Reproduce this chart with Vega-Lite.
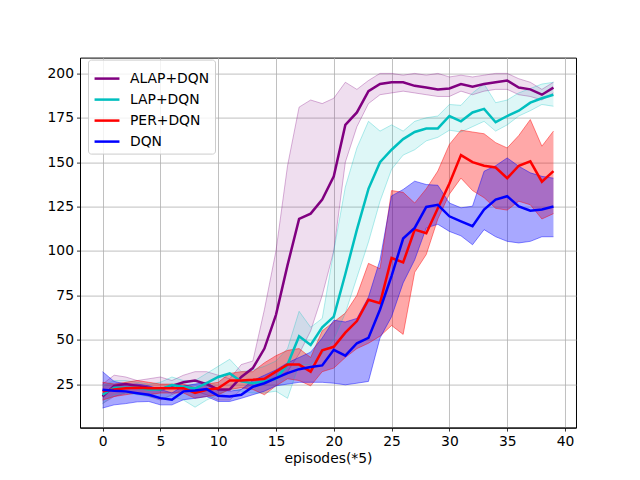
{
"$schema":"https://vega.github.io/schema/vega-lite/v6.json",
"width":496,"height":370,
"autosize":{"type":"none"},
"padding":{"left":80,"top":57.6,"right":64,"bottom":52.8},
"background":"white",
"config":{"view":{"stroke":"black","strokeWidth":1},"font":"DejaVu Sans"},
"data":{"values":[
{"s":"ALAP+DQN","x":0,"m":18,"lo":14,"hi":25},
{"s":"ALAP+DQN","x":1,"m":24,"lo":18,"hi":30},
{"s":"ALAP+DQN","x":2,"m":25,"lo":20,"hi":29},
{"s":"ALAP+DQN","x":3,"m":24,"lo":20,"hi":27},
{"s":"ALAP+DQN","x":4,"m":23,"lo":18,"hi":28},
{"s":"ALAP+DQN","x":5,"m":22,"lo":16,"hi":29},
{"s":"ALAP+DQN","x":6,"m":24,"lo":19,"hi":27},
{"s":"ALAP+DQN","x":7,"m":26,"lo":22,"hi":30},
{"s":"ALAP+DQN","x":8,"m":27,"lo":21,"hi":32},
{"s":"ALAP+DQN","x":9,"m":25,"lo":19,"hi":32},
{"s":"ALAP+DQN","x":10,"m":22,"lo":16,"hi":30},
{"s":"ALAP+DQN","x":11,"m":22,"lo":16,"hi":28},
{"s":"ALAP+DQN","x":12,"m":29,"lo":22,"hi":36},
{"s":"ALAP+DQN","x":13,"m":34,"lo":25,"hi":38},
{"s":"ALAP+DQN","x":14,"m":45,"lo":27,"hi":67},
{"s":"ALAP+DQN","x":15,"m":64,"lo":29,"hi":100},
{"s":"ALAP+DQN","x":16,"m":92,"lo":32,"hi":148},
{"s":"ALAP+DQN","x":17,"m":118,"lo":42,"hi":181},
{"s":"ALAP+DQN","x":18,"m":121,"lo":55,"hi":185},
{"s":"ALAP+DQN","x":19,"m":129,"lo":75,"hi":183},
{"s":"ALAP+DQN","x":20,"m":142,"lo":100,"hi":186},
{"s":"ALAP+DQN","x":21,"m":171,"lo":150,"hi":195},
{"s":"ALAP+DQN","x":22,"m":178,"lo":170,"hi":191},
{"s":"ALAP+DQN","x":23,"m":190,"lo":183,"hi":196},
{"s":"ALAP+DQN","x":24,"m":194,"lo":188,"hi":200},
{"s":"ALAP+DQN","x":25,"m":195,"lo":189,"hi":200},
{"s":"ALAP+DQN","x":26,"m":195,"lo":190,"hi":199},
{"s":"ALAP+DQN","x":27,"m":193,"lo":189,"hi":200},
{"s":"ALAP+DQN","x":28,"m":192,"lo":188,"hi":199},
{"s":"ALAP+DQN","x":29,"m":191,"lo":187,"hi":200},
{"s":"ALAP+DQN","x":30,"m":191.5,"lo":187,"hi":198},
{"s":"ALAP+DQN","x":31,"m":194,"lo":190,"hi":199},
{"s":"ALAP+DQN","x":32,"m":192.5,"lo":188,"hi":198},
{"s":"ALAP+DQN","x":33,"m":194,"lo":190,"hi":199},
{"s":"ALAP+DQN","x":34,"m":195,"lo":191,"hi":200},
{"s":"ALAP+DQN","x":35,"m":196,"lo":191,"hi":200},
{"s":"ALAP+DQN","x":36,"m":192,"lo":188,"hi":197},
{"s":"ALAP+DQN","x":37,"m":191,"lo":187,"hi":195},
{"s":"ALAP+DQN","x":38,"m":188,"lo":185,"hi":191},
{"s":"ALAP+DQN","x":39,"m":192,"lo":189,"hi":195},
{"s":"LAP+DQN","x":0,"m":19,"lo":14,"hi":24},
{"s":"LAP+DQN","x":1,"m":23,"lo":19,"hi":27},
{"s":"LAP+DQN","x":2,"m":23,"lo":20,"hi":27},
{"s":"LAP+DQN","x":3,"m":23,"lo":19,"hi":26},
{"s":"LAP+DQN","x":4,"m":22,"lo":18,"hi":25},
{"s":"LAP+DQN","x":5,"m":22,"lo":17,"hi":26},
{"s":"LAP+DQN","x":6,"m":24.5,"lo":18,"hi":29},
{"s":"LAP+DQN","x":7,"m":23.5,"lo":16,"hi":27},
{"s":"LAP+DQN","x":8,"m":22.5,"lo":12,"hi":27},
{"s":"LAP+DQN","x":9,"m":25.5,"lo":16,"hi":31},
{"s":"LAP+DQN","x":10,"m":29,"lo":19,"hi":35},
{"s":"LAP+DQN","x":11,"m":31,"lo":22,"hi":39},
{"s":"LAP+DQN","x":12,"m":26.5,"lo":21,"hi":32},
{"s":"LAP+DQN","x":13,"m":25.5,"lo":20,"hi":33},
{"s":"LAP+DQN","x":14,"m":26.5,"lo":20,"hi":35},
{"s":"LAP+DQN","x":15,"m":28,"lo":21,"hi":38},
{"s":"LAP+DQN","x":16,"m":36,"lo":17,"hi":45},
{"s":"LAP+DQN","x":17,"m":52,"lo":36,"hi":66},
{"s":"LAP+DQN","x":18,"m":47,"lo":36,"hi":57},
{"s":"LAP+DQN","x":19,"m":57,"lo":42,"hi":62},
{"s":"LAP+DQN","x":20,"m":63,"lo":50,"hi":100},
{"s":"LAP+DQN","x":21,"m":87,"lo":65,"hi":136},
{"s":"LAP+DQN","x":22,"m":112,"lo":85,"hi":158},
{"s":"LAP+DQN","x":23,"m":135,"lo":105,"hi":173},
{"s":"LAP+DQN","x":24,"m":150,"lo":128,"hi":167.5},
{"s":"LAP+DQN","x":25,"m":157,"lo":146,"hi":171},
{"s":"LAP+DQN","x":26,"m":163,"lo":154,"hi":167.5},
{"s":"LAP+DQN","x":27,"m":167,"lo":157,"hi":173},
{"s":"LAP+DQN","x":28,"m":169,"lo":162,"hi":175},
{"s":"LAP+DQN","x":29,"m":169,"lo":164,"hi":176},
{"s":"LAP+DQN","x":30,"m":176,"lo":168,"hi":182.5},
{"s":"LAP+DQN","x":31,"m":173,"lo":167,"hi":182},
{"s":"LAP+DQN","x":32,"m":178,"lo":170,"hi":189},
{"s":"LAP+DQN","x":33,"m":180,"lo":173,"hi":194},
{"s":"LAP+DQN","x":34,"m":172.5,"lo":167.5,"hi":183.5},
{"s":"LAP+DQN","x":35,"m":176,"lo":171,"hi":185},
{"s":"LAP+DQN","x":36,"m":179,"lo":176,"hi":189},
{"s":"LAP+DQN","x":37,"m":183.5,"lo":179,"hi":191.5},
{"s":"LAP+DQN","x":38,"m":186,"lo":182.5,"hi":194},
{"s":"LAP+DQN","x":39,"m":188,"lo":181.5,"hi":195},
{"s":"PER+DQN","x":0,"m":21,"lo":16,"hi":26},
{"s":"PER+DQN","x":1,"m":22,"lo":18,"hi":25},
{"s":"PER+DQN","x":2,"m":22.7,"lo":19,"hi":26},
{"s":"PER+DQN","x":3,"m":23,"lo":20,"hi":27},
{"s":"PER+DQN","x":4,"m":22.7,"lo":19,"hi":26},
{"s":"PER+DQN","x":5,"m":22.7,"lo":20,"hi":25},
{"s":"PER+DQN","x":6,"m":22.7,"lo":20,"hi":25},
{"s":"PER+DQN","x":7,"m":22.7,"lo":20,"hi":25},
{"s":"PER+DQN","x":8,"m":20,"lo":17,"hi":23},
{"s":"PER+DQN","x":9,"m":21.8,"lo":18,"hi":25},
{"s":"PER+DQN","x":10,"m":22.7,"lo":19,"hi":26},
{"s":"PER+DQN","x":11,"m":27,"lo":22,"hi":31},
{"s":"PER+DQN","x":12,"m":27,"lo":23,"hi":32},
{"s":"PER+DQN","x":13,"m":27.4,"lo":22,"hi":32},
{"s":"PER+DQN","x":14,"m":28,"lo":19,"hi":37},
{"s":"PER+DQN","x":15,"m":32,"lo":24,"hi":41},
{"s":"PER+DQN","x":16,"m":36,"lo":28,"hi":44},
{"s":"PER+DQN","x":17,"m":36,"lo":27,"hi":45},
{"s":"PER+DQN","x":18,"m":32,"lo":24,"hi":40},
{"s":"PER+DQN","x":19,"m":44,"lo":32,"hi":55},
{"s":"PER+DQN","x":20,"m":46,"lo":34,"hi":60},
{"s":"PER+DQN","x":21,"m":54,"lo":40,"hi":65},
{"s":"PER+DQN","x":22,"m":60.5,"lo":45,"hi":75},
{"s":"PER+DQN","x":23,"m":72.5,"lo":48,"hi":93},
{"s":"PER+DQN","x":24,"m":70.6,"lo":52,"hi":90},
{"s":"PER+DQN","x":25,"m":96,"lo":58,"hi":134},
{"s":"PER+DQN","x":26,"m":93.5,"lo":53,"hi":133},
{"s":"PER+DQN","x":27,"m":112,"lo":88,"hi":127},
{"s":"PER+DQN","x":28,"m":110,"lo":98,"hi":135},
{"s":"PER+DQN","x":29,"m":124,"lo":118,"hi":145},
{"s":"PER+DQN","x":30,"m":138,"lo":132,"hi":160},
{"s":"PER+DQN","x":31,"m":154,"lo":141,"hi":168},
{"s":"PER+DQN","x":32,"m":150,"lo":134,"hi":167},
{"s":"PER+DQN","x":33,"m":148,"lo":130,"hi":166},
{"s":"PER+DQN","x":34,"m":147,"lo":124,"hi":161},
{"s":"PER+DQN","x":35,"m":141,"lo":123,"hi":158},
{"s":"PER+DQN","x":36,"m":148,"lo":128,"hi":165},
{"s":"PER+DQN","x":37,"m":150.5,"lo":126,"hi":174},
{"s":"PER+DQN","x":38,"m":139,"lo":118,"hi":159},
{"s":"PER+DQN","x":39,"m":145,"lo":121,"hi":167.5},
{"s":"DQN","x":0,"m":21.8,"lo":11.5,"hi":32},
{"s":"DQN","x":1,"m":21.2,"lo":13.3,"hi":26.5},
{"s":"DQN","x":2,"m":20.9,"lo":14,"hi":25},
{"s":"DQN","x":3,"m":19.9,"lo":15,"hi":25},
{"s":"DQN","x":4,"m":19,"lo":15.2,"hi":24},
{"s":"DQN","x":5,"m":17.1,"lo":13.3,"hi":22},
{"s":"DQN","x":6,"m":16.2,"lo":13.3,"hi":20},
{"s":"DQN","x":7,"m":20.9,"lo":16.2,"hi":24},
{"s":"DQN","x":8,"m":21.4,"lo":17,"hi":25},
{"s":"DQN","x":9,"m":22.2,"lo":18,"hi":26},
{"s":"DQN","x":10,"m":18.4,"lo":15.2,"hi":22},
{"s":"DQN","x":11,"m":18,"lo":15.2,"hi":21},
{"s":"DQN","x":12,"m":19,"lo":17,"hi":22},
{"s":"DQN","x":13,"m":23.5,"lo":19,"hi":27},
{"s":"DQN","x":14,"m":25.5,"lo":21,"hi":30},
{"s":"DQN","x":15,"m":28.4,"lo":24,"hi":33},
{"s":"DQN","x":16,"m":31.2,"lo":25,"hi":37},
{"s":"DQN","x":17,"m":33.4,"lo":26,"hi":40},
{"s":"DQN","x":18,"m":34.6,"lo":26,"hi":43},
{"s":"DQN","x":19,"m":35.5,"lo":26,"hi":51},
{"s":"DQN","x":20,"m":44.3,"lo":25.5,"hi":61},
{"s":"DQN","x":21,"m":41,"lo":24.6,"hi":60},
{"s":"DQN","x":22,"m":48,"lo":25.5,"hi":62},
{"s":"DQN","x":23,"m":51,"lo":26.5,"hi":74},
{"s":"DQN","x":24,"m":67,"lo":51,"hi":95},
{"s":"DQN","x":25,"m":86,"lo":63,"hi":131},
{"s":"DQN","x":26,"m":107,"lo":82,"hi":134.6},
{"s":"DQN","x":27,"m":113,"lo":95,"hi":139.3},
{"s":"DQN","x":28,"m":124.8,"lo":113,"hi":137.4},
{"s":"DQN","x":29,"m":126,"lo":115,"hi":137},
{"s":"DQN","x":30,"m":119.5,"lo":111,"hi":127},
{"s":"DQN","x":31,"m":116.7,"lo":108.5,"hi":124.3},
{"s":"DQN","x":32,"m":113.9,"lo":103.5,"hi":125.2},
{"s":"DQN","x":33,"m":123.3,"lo":112,"hi":144.9},
{"s":"DQN","x":34,"m":128.9,"lo":108,"hi":148},
{"s":"DQN","x":35,"m":130.8,"lo":105.4,"hi":152.4},
{"s":"DQN","x":36,"m":125.1,"lo":104.5,"hi":147.7},
{"s":"DQN","x":37,"m":122.7,"lo":105.4,"hi":144},
{"s":"DQN","x":38,"m":123.3,"lo":108,"hi":142},
{"s":"DQN","x":39,"m":125,"lo":108,"hi":141}
]},
"encoding":{
"x":{"field":"x","type":"quantitative","scale":{"domain":[-1.95,40.95],"nice":false,"zero":false},
 "axis":{"values":[0,5,10,15,20,25,30,35,40],"title":"episodes(*5)","titleFontWeight":"normal","titleFontSize":13.9,"titleColor":"black","titlePadding":4,
 "labelFontSize":13.9,"labelColor":"black","labelPadding":3,"tickColor":"black","tickSize":3.5,"tickWidth":0.8,"domainColor":"black","domainWidth":1,
 "grid":true,"gridColor":"#b0b0b0","gridWidth":0.8,"labelFlush":false}},
"y":{"type":"quantitative","scale":{"domain":[0.5,208.9],"nice":false,"zero":false},
 "axis":{"values":[25,50,75,100,125,150,175,200],"title":null,"labelFontSize":13.9,"labelColor":"black","labelPadding":3,"tickColor":"black","tickSize":3.5,"tickWidth":0.8,"domainColor":"black","domainWidth":1,"grid":true,"gridColor":"#b0b0b0","gridWidth":0.8}},
"color":{"field":"s","type":"nominal","scale":{"domain":["ALAP+DQN","LAP+DQN","PER+DQN","DQN"],"range":["#800080","#00bfbf","#ff0000","#0000ff"]},
 "legend":{"title":null,"orient":"none","legendX":8,"legendY":2,"symbolType":"stroke","symbolStrokeWidth":2.5,"symbolSize":620,"symbolOpacity":1,
 "labelFontSize":13.9,"labelColor":"black","labelFont":"DejaVu Sans","rowPadding":0,"padding":5,"fillColor":"rgba(255,255,255,0.8)","strokeColor":"#cccccc","cornerRadius":3,"labelOffset":9}}
},
"layer":[
{"mark":{"type":"area","opacity":1},
 "encoding":{
  "y":{"field":"lo"},
  "y2":{"field":"hi"},
  "fillOpacity":{"condition":{"test":"datum.s === 'PER+DQN' || datum.s === 'DQN'","value":0.34},"value":0.13}
 }},
{"mark":{"type":"line","strokeWidth":1,"opacity":1},
 "encoding":{"y":{"field":"lo"},
  "strokeOpacity":{"condition":{"test":"datum.s === 'PER+DQN' || datum.s === 'DQN'","value":0.45},"value":0.3}}},
{"mark":{"type":"line","strokeWidth":1,"opacity":1},
 "encoding":{"y":{"field":"hi"},
  "strokeOpacity":{"condition":{"test":"datum.s === 'PER+DQN' || datum.s === 'DQN'","value":0.45},"value":0.3}}},
{"mark":{"type":"line","strokeWidth":2.5},
 "encoding":{"y":{"field":"m"}}}
]
}
